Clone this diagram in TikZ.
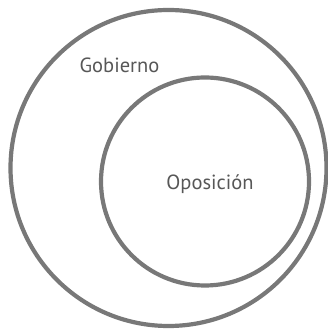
\documentclass[tikz,border=0pt]{standalone}
\usepackage{fontspec}
\setmainfont{PT Sans}
\begin{document}
\begin{tikzpicture}
% 1px = 1pt
[x=1pt,y=1pt,line width=4.2pt]
\tikzset{ring/.style={draw=black!53},
	label/.style={text=black!66,font=\fontsize{20.5}{20.5}\selectfont,inner sep=0pt}}
\useasboundingbox (0,0) rectangle (328,331);
\draw[ring] (168.5,163) circle (158); % gobierno
\draw[ring] (205,149.5) circle (104); % oposicion
\node[label] (gobierno) at (119.5,266) {Gobierno};
\node[label] (oposicion) at (210,147) {Oposición};
\end{tikzpicture}
\end{document}
